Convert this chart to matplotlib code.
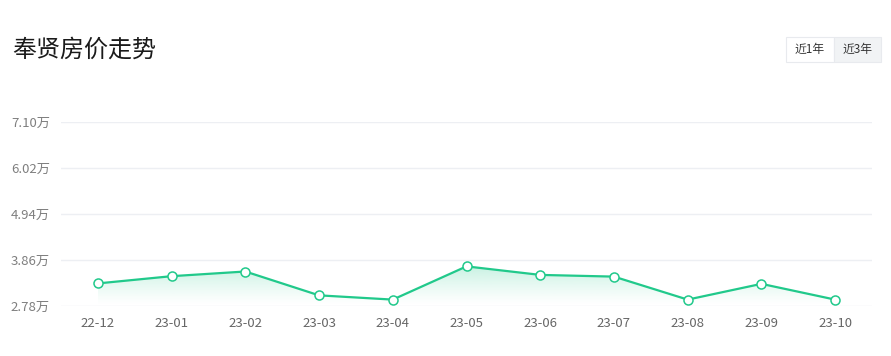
import matplotlib.pyplot as plt
import numpy as np
from matplotlib.patches import Rectangle

plt.rcParams['font.family'] = ['Noto Sans CJK SC', 'DejaVu Sans']

# 数据
months = ['22-12', '23-01', '23-02', '23-03', '23-04', '23-05',
          '23-06', '23-07', '23-08', '23-09', '23-10']
prices = [3.31, 3.48, 3.59, 3.03, 2.93, 3.71, 3.51, 3.47, 2.93, 3.30, 2.93]
y_ticks = [2.78, 3.86, 4.94, 6.02, 7.10]
y_labels = ['2.78万', '3.86万', '4.94万', '6.02万', '7.10万']

green = '#21c98b'
W, H = 891, 356

fig = plt.figure(figsize=(W / 100, H / 100), dpi=100)
ax = fig.add_axes([61 / W, (H - 306) / H, (872 - 61) / W, (306 - 122) / H])

x = np.arange(len(months))
ax.set_xlim(-0.5, len(months) - 0.5)
ax.set_ylim(y_ticks[0], y_ticks[-1])

# 渐变填充
poly = ax.fill_between(x, prices, y_ticks[0], color='none')
grad = np.linspace(0, 1, 256).reshape(-1, 1)
rgba = np.zeros((256, 1, 4))
rgba[..., 0] = 0x21 / 255
rgba[..., 1] = 0xc9 / 255
rgba[..., 2] = 0x8b / 255
rgba[..., 3] = 0.25 * grad ** 1.3
top = max(prices)
img = ax.imshow(rgba, extent=[x[0], x[-1], y_ticks[0], top], origin='lower',
                aspect='auto', zorder=1)
img.set_clip_path(poly.get_paths()[0], transform=ax.transData)

ax.plot(x, prices, color=green, lw=1.6, zorder=3)
ax.plot(x, prices, 'o', ms=6.5, mfc='white', mec=green, mew=1.1, zorder=4)

ax.set_yticks(y_ticks)
ax.set_yticklabels(y_labels, color='#7f7f7f', fontsize=9.5)
ax.set_xticks(x)
ax.set_xticklabels(months, color='#666666', fontsize=9.5)
ax.tick_params(axis='both', length=0)
ax.tick_params(axis='y', pad=8)
ax.tick_params(axis='x', pad=8)
ax.grid(axis='y', color='#edeff3', lw=1)
ax.set_axisbelow(True)
for s in ax.spines.values():
    s.set_visible(False)

# 标题
fig.text(12 / W, 1 - 50 / H, '奉贤房价走势', fontsize=17.3, color='#1a1a1a',
         va='center', ha='left')

# 切换按钮
fig.patches.append(Rectangle((786 / W, 1 - 62 / H), 48 / W, 25 / H,
                             transform=fig.transFigure, fc='white',
                             ec='#e8eaee', lw=0.8))
fig.patches.append(Rectangle((834 / W, 1 - 62 / H), 47 / W, 25 / H,
                             transform=fig.transFigure, fc='#f1f3f5',
                             ec='#e8eaee', lw=0.8))
fig.text(810 / W, 1 - 49.5 / H, '近1年', fontsize=8.5, color='#333333',
         ha='center', va='center')
fig.text(857.5 / W, 1 - 49.5 / H, '近3年', fontsize=8.5, color='#333333',
         ha='center', va='center')

fig.savefig('out.png', dpi=100)
